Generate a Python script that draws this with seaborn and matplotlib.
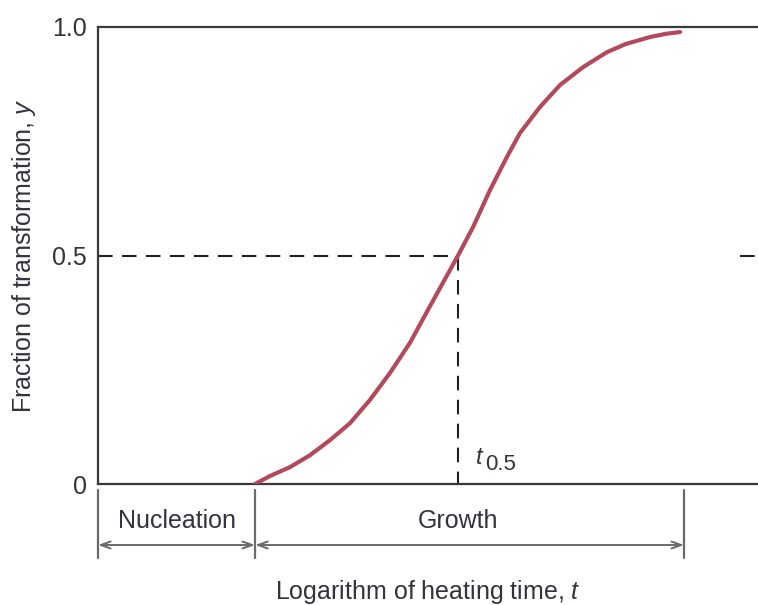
import matplotlib
matplotlib.use("Agg")
import matplotlib.pyplot as plt
import seaborn as sns
import pandas as pd

# ---- data ----
log_time = [2.38, 2.606, 2.909, 3.212, 3.515, 3.818, 4.121, 4.424, 4.727, 5.03,
            5.455, 5.682, 5.939, 6.197, 6.394, 6.697, 7.0, 7.348, 7.712, 8.0,
            8.364, 8.6, 8.82]
fraction = [0.0, 0.0175, 0.037, 0.063, 0.096, 0.133, 0.184, 0.243, 0.309, 0.389,
            0.500, 0.562, 0.643, 0.716, 0.768, 0.825, 0.873, 0.912, 0.945, 0.963,
            0.978, 0.985, 0.989]
y_ticks = [0, 0.5, 1.0]
y_ticklabels = ["0", "0.5", "1.0"]
t_half = 5.455
nucleation_start = 0.0
growth_start = 2.38
growth_end = 8.88
stage_labels = ["Nucleation", "Growth"]

df = pd.DataFrame({"log_time": log_time, "fraction": fraction})

sns.set_style("white")
plt.rcParams["font.family"] = ["Liberation Sans", "DejaVu Sans"]
plt.rcParams["mathtext.fontset"] = "custom"
plt.rcParams["mathtext.it"] = "Liberation Sans:italic"
plt.rcParams["mathtext.rm"] = "Liberation Sans"

txt = "#333340"
fig = plt.figure(figsize=(7.58, 6.05), dpi=100)
ax = fig.add_axes([98 / 758, 121 / 605, 1 - 98 / 758, 457 / 605])

sns.lineplot(data=df, x="log_time", y="fraction", ax=ax, color="#b24a5c",
             linewidth=3.0, solid_capstyle="round", solid_joinstyle="round", zorder=3)

ax.set_xlim(0, 10)
ax.set_ylim(0, 1.0)

# dashed guide lines
dash = dict(color="#222222", linewidth=1.5, linestyle=(0, (7, 4.5)), zorder=2)
ax.plot([0, t_half], [0.5, 0.5], **dash)
ax.plot([9.73, 10.2], [0.5, 0.5], clip_on=False, **dash)
ax.plot([t_half, t_half], [0.5, 0.0], **dash)

ax.text(5.72, 0.058, "t", style="italic", fontsize=17, color=txt, ha="left", va="center")
ax.text(5.86, 0.042, "0.5", fontsize=16, color=txt, ha="left", va="center")

# spines
for s in ["left", "top", "bottom"]:
    ax.spines[s].set_color("#3a3a3a")
    ax.spines[s].set_linewidth(1.6)
ax.spines["right"].set_visible(False)

ax.set_yticks(y_ticks)
ax.set_yticklabels(y_ticklabels)
ax.set_xticks([])
ax.tick_params(axis="y", length=0, pad=8, labelsize=18, labelcolor=txt)

ax.set_ylabel("Fraction of transformation, $\\it{y}$", fontsize=18, color=txt, labelpad=10)
ax.set_xlabel("Logarithm of heating time, $\\it{t}$", fontsize=18, color=txt, labelpad=68)

# stage brackets below the axis
grey = "#6a6a6a"
for xv in [nucleation_start, growth_start, growth_end]:
    ax.plot([xv, xv], [-0.013, -0.162], color=grey, linewidth=1.6, clip_on=False)

arrow_y = -0.1335
for (a, b) in [(nucleation_start, growth_start), (growth_start, growth_end)]:
    ax.annotate("", xy=(b, arrow_y), xytext=(a, arrow_y), xycoords="data",
                annotation_clip=False,
                arrowprops=dict(arrowstyle="<->,head_length=0.7,head_width=0.25",
                                color=grey, linewidth=1.4, shrinkA=0, shrinkB=0))

ax.text((nucleation_start + growth_start) / 2, -0.082, stage_labels[0], fontsize=18,
        color=txt, ha="center", va="center")
ax.text(t_half, -0.082, stage_labels[1], fontsize=18, color=txt, ha="center", va="center")

fig.savefig("out.png", dpi=100)
